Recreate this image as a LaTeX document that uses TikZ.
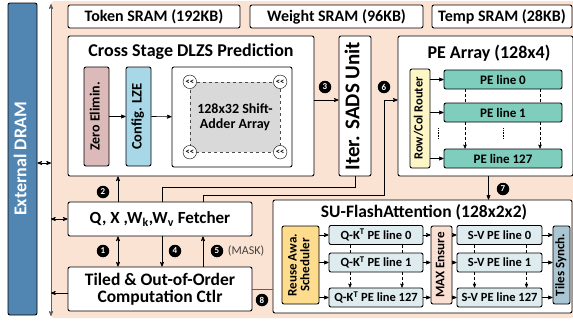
\documentclass[tikz,border=0pt]{standalone}
\usepackage{fontspec}
\setmainfont{Carlito}
\usepackage{xcolor}
\usepackage{graphicx}
\usepackage{tikz}
\usetikzlibrary{shapes,arrows,positioning,calc}
\definecolor{accpeach}{RGB}{251, 227, 212}
\definecolor{accdram}{RGB}{82, 134, 178}
\definecolor{acczero}{RGB}{221, 186, 186}
\definecolor{acclze}{RGB}{168, 216, 232}
\definecolor{accshift}{RGB}{217, 217, 217}
\definecolor{accrouter}{RGB}{253, 246, 199}
\definecolor{accpe}{RGB}{126, 205, 189}
\definecolor{accsched}{RGB}{253, 220, 142}
\definecolor{accline}{RGB}{222, 235, 239}
\definecolor{accmax}{RGB}{250, 224, 210}
\definecolor{acctiles}{RGB}{170, 198, 210}
\definecolor{accbus}{RGB}{95, 95, 95}
\newcommand{\vtext}[1]{\rotatebox{90}{\begin{tabular}{@{}c@{}}#1\end{tabular}}}
\newcommand{\fsz}[2]{\fontsize{#1}{#2}\selectfont}

\begin{document}
\begin{tikzpicture}[x=1pt, y=-1pt, >=stealth', font=\bfseries,
    box/.style={draw=black, line width=0.9pt, rectangle, rounded corners=2pt, fill=white, inner sep=0pt, align=center},
    stepnum/.style={circle, fill=black, text=white, inner sep=0pt, minimum size=12.5pt, font=\bfseries\fsz{9}{10}},
    shiftop/.style={circle, draw=black, fill=white, inner sep=0pt, minimum size=13.5pt, font=\bfseries\fsz{8.5}{9}},
    link/.style={->, line width=0.7pt}]
    \useasboundingbox (0,0) rectangle (573,322);
    % background and memory
    \fill [accpeach, rounded corners=3pt] (51,1) rectangle (575,318);
    \node [box, fill=accdram, text=white, minimum width=29pt, minimum height=312pt, font=\bfseries\fsz{18}{19}] (dram) at (22.5,159) {\vtext{External DRAM}};
    \coordinate (bustop) at (51,4);
    \coordinate (busbot) at (51,316);
    \draw [<->, accbus, line width=0.8pt] (bustop) -- (busbot);
    \node [box, minimum width=172pt, minimum height=23pt, font=\bfseries\fsz{16}{17}] (token) at (154,16.5) {Token SRAM (192KB)};
    \node [box, minimum width=173pt, minimum height=23pt, font=\bfseries\fsz{16}{17}] (weight) at (336.5,16.5) {Weight SRAM (96KB)};
    \node [box, minimum width=140pt, minimum height=23pt, font=\bfseries\fsz{16}{17}] (temp) at (502,16.5) {Temp SRAM (28KB)};

    % DLZS prediction
    \node [box, minimum width=246pt, minimum height=140pt] (dlzs) at (191,106) {};
    \node [font=\bfseries\fsz{18}{19}] (dlzstitle) at (191,52) {Cross Stage DLZS Prediction};
    \node [box, fill=acczero, minimum width=25pt, minimum height=99pt, font=\bfseries\fsz{14}{15}] (zero) at (96.5,116.5) {\vtext{Zero Elimin.}};
    \node [box, fill=acclze, minimum width=25pt, minimum height=99pt, font=\bfseries\fsz{14.5}{15}] (lze) at (138.5,116.5) {\vtext{Config. LZE}};
    \node [box, minimum width=120pt, minimum height=100pt] (shift) at (232,117) {};
    \node [draw=black!70, dashed, fill=accshift, minimum width=90pt, minimum height=70pt, align=center, font=\bfseries\fsz{14}{15.5}] (adder) at (235,117) {128x32 Shift-\\Adder Array};
    \node [shiftop] (sh1) at (adder.north west) {{<}{<}};
    \node [shiftop] (sh2) at (adder.north east) {{<}{<}};
    \node [shiftop] (sh3) at (adder.south west) {{<}{<}};
    \node [shiftop] (sh4) at (adder.south east) {{<}{<}};
    \draw [link] (zero) -- (lze);
    \draw [link] (lze) -- (shift);

    % SADS and PE array
    \node [box, minimum width=32pt, minimum height=140pt, font=\bfseries\fsz{21}{22}] (sads) at (355,106) {\vtext{Iter. SADS Unit}};
    \node [box, minimum width=175pt, minimum height=140pt] (pearray) at (485.5,106) {};
    \node [font=\bfseries\fsz{18}{19}] (petitle) at (489,53) {PE Array (128x4)};
    \node [box, fill=accrouter, minimum width=20pt, minimum height=99pt, font=\bfseries\fsz{12.5}{13}] (router) at (420,118.5) {\vtext{Row/Col Router}};
    \node [box, fill=accpe, minimum width=118pt, minimum height=19pt, font=\bfseries\fsz{13}{14}] (pe0) at (503,79.5) {PE line 0};
    \node [box, fill=accpe, minimum width=118pt, minimum height=19pt, font=\bfseries\fsz{13}{14}] (pe1) at (503,112.5) {PE line 1};
    \node [box, fill=accpe, minimum width=118pt, minimum height=19pt, font=\bfseries\fsz{13}{14}] (pe127) at (503,158.5) {PE line 127};
    \draw [link] (router.east |- pe0) -- (pe0);
    \draw [link] (router.east |- pe1) -- (pe1);
    \draw [link] (router.east |- pe127) -- (pe127);
    \draw [densely dashed, line width=0.5pt] ([xshift=-38pt]pe0.south) -- ([xshift=-38pt]pe1.north);
    \draw [densely dashed, line width=0.5pt] ([xshift=37pt]pe0.south) -- ([xshift=37pt]pe1.north);
    \draw [->, densely dashed, line width=0.5pt] ([xshift=-38pt]pe1.south) -- ([xshift=-38pt]pe127.north);
    \draw [->, densely dashed, line width=0.5pt] ([xshift=37pt]pe1.south) -- ([xshift=37pt]pe127.north);
    \draw [densely dotted, line width=0.6pt] ([yshift=-6pt]pe1.south) -- ([yshift=-17pt]pe1.south);
    \draw [densely dotted, line width=0.6pt] ([xshift=-65pt, yshift=-6pt]pe1.south) -- ([xshift=-65pt, yshift=-17pt]pe1.south);

    % fetcher and controller
    \node [box, minimum width=184pt, minimum height=34pt, font=\bfseries\fsz{17}{18}] (fetcher) at (160,219) {Q, X ,W\textsubscript{k},W\textsubscript{v} Fetcher};
    \node [box, minimum width=184pt, minimum height=44pt, font=\bfseries\fsz{17.5}{16.5}] (ctrl) at (160,289) {Tiled \& Out-of-Order\\Computation Ctlr};

    % SU-FlashAttention
    \node [box, minimum width=299pt, minimum height=113pt] (su) at (422.5,256.5) {};
    \node [font=\bfseries\fsz{17.5}{18}] (sutitle) at (424,212) {SU-FlashAttention (128x2x2)};
    \node [box, fill=accsched, minimum width=37pt, minimum height=78pt, font=\bfseries\fsz{13}{12.5}] (sched) at (300.5,265) {\vtext{Reuse Awa.\\Scheduler}};
    \node [box, fill=accline, minimum width=94pt, minimum height=19pt, font=\bfseries\fsz{12.5}{13}] (qk0) at (376,235) {Q-K\textsuperscript{T} PE line 0};
    \node [box, fill=accline, minimum width=94pt, minimum height=19pt, font=\bfseries\fsz{12.5}{13}] (qk1) at (376,262.5) {Q-K\textsuperscript{T} PE line 1};
    \node [box, fill=accline, minimum width=94pt, minimum height=19pt, font=\bfseries\fsz{12.5}{13}] (qk127) at (376,297.5) {Q-K\textsuperscript{T} PE line 127};
    \node [box, fill=accmax, minimum width=21pt, minimum height=78pt, font=\bfseries\fsz{13}{14}] (maxe) at (441.5,265) {\vtext{MAX Ensure}};
    \node [box, fill=accline, minimum width=85pt, minimum height=19pt, font=\bfseries\fsz{12.5}{13}] (sv0) at (499.5,235) {S-V PE line 0};
    \node [box, fill=accline, minimum width=85pt, minimum height=19pt, font=\bfseries\fsz{12.5}{13}] (sv1) at (499.5,262.5) {S-V PE line 1};
    \node [box, fill=accline, minimum width=85pt, minimum height=19pt, font=\bfseries\fsz{12.5}{13}] (sv127) at (499.5,297.5) {S-V PE line 127};
    \node [box, fill=acctiles, minimum width=17pt, minimum height=78pt, font=\bfseries\fsz{13}{14}] (tiles) at (561.5,265) {\vtext{Tiles Synch.}};
    \draw [link] (sched.east |- qk0) -- (qk0);
    \draw [link] (sched.east |- qk1) -- (qk1);
    \draw [link] (sched.east |- qk127) -- (qk127);
    \draw [link] (qk0) -- (qk0 -| maxe.west);
    \draw [link] (qk1) -- (qk1 -| maxe.west);
    \draw [link] (qk127) -- (qk127 -| maxe.west);
    \draw [link] (maxe.east |- sv0) -- (sv0);
    \draw [link] (maxe.east |- sv1) -- (sv1);
    \draw [link] (maxe.east |- sv127) -- (sv127);
    \draw [link] (sv0) -- (sv0 -| tiles.west);
    \draw [link] (sv1) -- (sv1 -| tiles.west);
    \draw [link] (sv127) -- (sv127 -| tiles.west);
    \draw [densely dashed, line width=0.5pt] ([xshift=-26pt]qk0.south) -- ([xshift=-26pt]qk1.north);
    \draw [densely dashed, line width=0.5pt] ([xshift=26pt]qk0.south) -- ([xshift=26pt]qk1.north);
    \draw [->, densely dashed, line width=0.5pt] ([xshift=-26pt]qk1.south) -- ([xshift=-26pt]qk127.north);
    \draw [->, densely dashed, line width=0.5pt] ([xshift=26pt]qk1.south) -- ([xshift=26pt]qk127.north);
    \draw [densely dashed, line width=0.5pt] ([xshift=-25pt]sv0.south) -- ([xshift=-25pt]sv1.north);
    \draw [densely dashed, line width=0.5pt] ([xshift=27pt]sv0.south) -- ([xshift=27pt]sv1.north);
    \draw [->, densely dashed, line width=0.5pt] ([xshift=-25pt]sv1.south) -- ([xshift=-25pt]sv127.north);
    \draw [->, densely dashed, line width=0.5pt] ([xshift=27pt]sv1.south) -- ([xshift=27pt]sv127.north);

    % dataflow
    \coordinate (bend6) at (384.5,195);
    \draw [link] ([yshift=6pt]dlzs.east) -- ([yshift=6pt]dlzs.east -| sads.west);
    \draw [line width=0.7pt] (sads.south) -- ++(0,11) -| ([xshift=2pt]fetcher.north);
    \draw [link] ([xshift=43pt]fetcher.north) |- (bend6) |- ([yshift=6pt]pearray.west);
    \draw [link] ([xshift=-42pt]fetcher.north) -- ([xshift=-42pt]fetcher.north |- dlzs.south);
    \draw [<->, line width=0.7pt] ([xshift=-42pt]fetcher.south) -- ([xshift=-42pt]ctrl.north);
    \draw [link] ([xshift=2pt]fetcher.south) -- ([xshift=2pt]ctrl.north);
    \draw [link] ([xshift=43pt]ctrl.north) -- ([xshift=43pt]fetcher.south);
    \draw [link] ([xshift=3pt]pearray.south) -- ([xshift=3pt]pearray.south |- su.north);
    \draw [accbus, line width=0.7pt] (ctrl.east) -- (ctrl.east -| su.west);
    \draw [<->, line width=0.7pt] ([yshift=-4pt]dram.east) -- ([yshift=-4pt]dram.east -| bustop);
    \draw [<->, line width=0.7pt] (fetcher.west) -- (fetcher.west -| bustop);
    \draw [->, line width=0.7pt] ([yshift=-4pt]ctrl.west) -- ([yshift=-4pt]ctrl.west -| bustop);

    % step numbers
    \node [stepnum] (n1) at (103,251) {1};
    \node [stepnum] (n2) at (103,192) {2};
    \node [stepnum] (n3) at (325,87) {3};
    \node [stepnum] (n4) at (175,251) {4};
    \node [stepnum] (n5) at (217,251) {5};
    \node [stepnum] (n6) at (384,87) {6};
    \node [stepnum] (n7) at (503,189) {7};
    \node [stepnum] (n8) at (262,300) {8};
    \node [right=1pt of n5, font=\fsz{12}{13}, text=black!75] (mask) {(MASK)};
\end{tikzpicture}
\end{document}
